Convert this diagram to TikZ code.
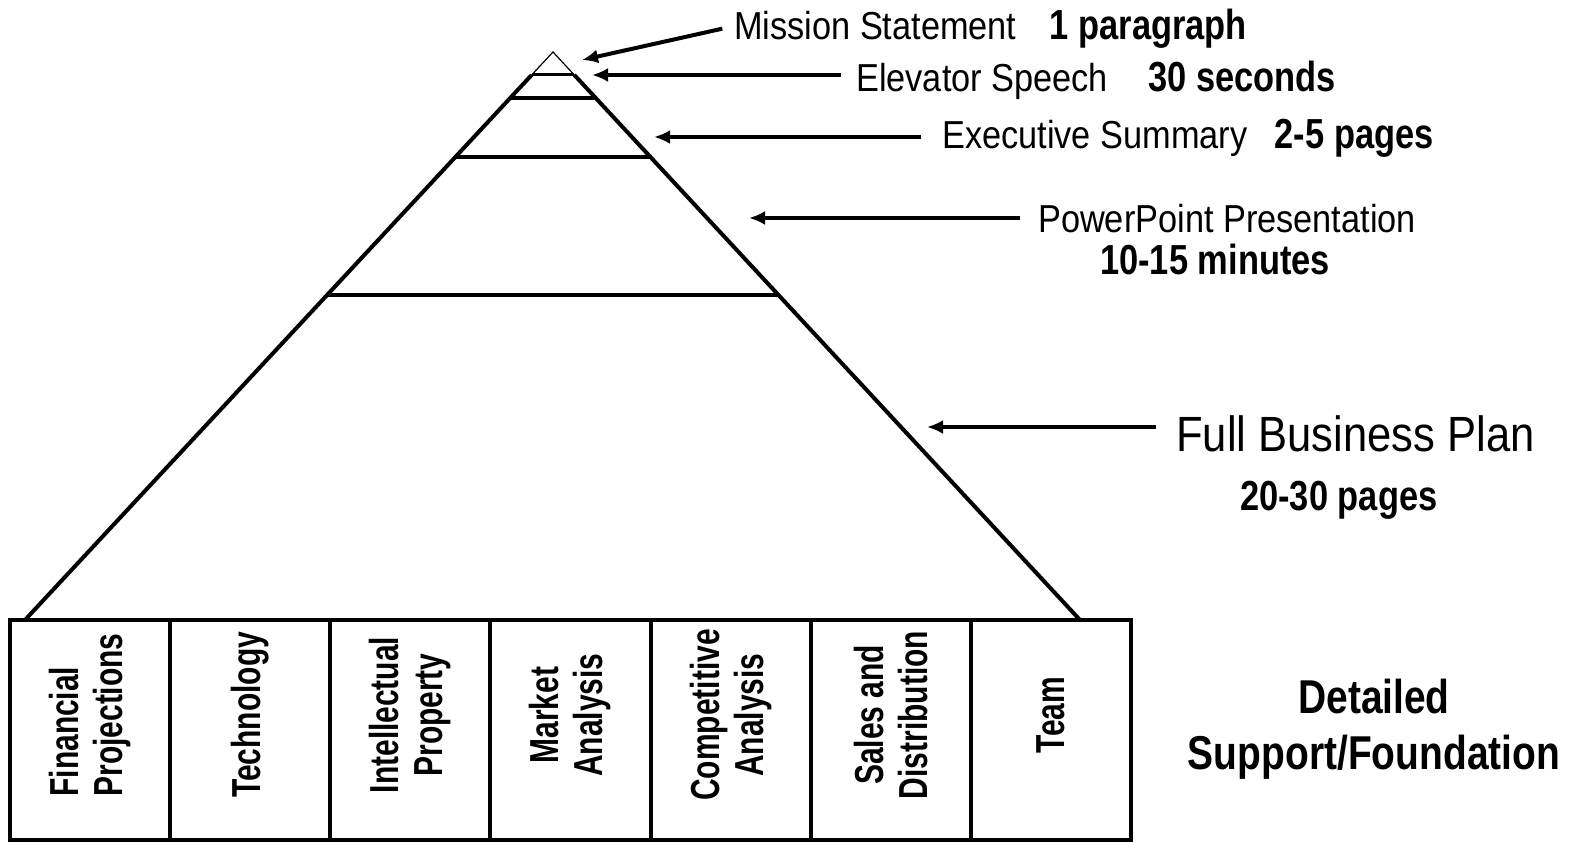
\documentclass[tikz,border=0pt]{standalone}
\usepackage{fontspec}
\newfontfamily\regfont{Liberation Sans}[FakeStretch=0.88]
\newfontfamily\bldfont{Liberation Sans}[FakeStretch=0.82]
\newfontfamily\nrwfont{Liberation Sans}[FakeStretch=0.74]
\usetikzlibrary{arrows.meta,calc,positioning}

\begin{document}
\begin{tikzpicture}[x=1pt, y=-1pt,
  reglbl/.style={inner sep=0pt, anchor=base west, font=\regfont\fontsize{39}{46}\selectfont},
  sizelbl/.style={inner sep=0pt, anchor=base west, font=\bldfont\bfseries\fontsize{42}{48}\selectfont},
  arr/.style={line width=4pt, -{Latex[length=16pt,width=14pt]}, shorten <=#1},
  arr/.default=18pt,
  layer/.style={line width=4pt},
  partbox/.style={draw, line width=4pt, minimum width=160.14pt, minimum height=220pt, inner sep=0pt},
  partlbl/.style={rotate=90, align=center, inner sep=0pt, font=\nrwfont\bfseries\fontsize{40.5}{44}\selectfont}]
  \useasboundingbox (0,0) rectangle (1583,842);
  % pyramid
  \coordinate (apex) at (553,52);
  \coordinate (bl) at (25,620);
  \coordinate (br) at (1080,620);
  \coordinate (tl) at ($(apex)!0.0405!(bl)$);
  \coordinate (tr) at ($(apex)!0.0405!(br)$);
  \draw[line width=1.2pt] (tl) -- (apex) -- (tr);
  \draw[layer] (tl) -- (bl) (tr) -- (br);
  \foreach \t/\w in {0.0405/3pt, 0.081/4pt, 0.1849/4pt, 0.4278/4pt}
    \draw[line width=\w] ($(apex)!\t!(bl)$) -- ($(apex)!\t!(br)$);

  % foundation boxes
  \foreach \name/\i in {fin/0, tech/1, ip/2, mkt/3, comp/4, sales/5, team/6}
    \node[partbox] (\name) at (90.07+160.14*\i, 730) {};
  \node[partlbl, align=left] (finlbl) at ([yshift=15pt]fin.center) {Financial\\Projections};
  \node[partlbl] (techlbl) at ([yshift=15pt]tech.center) {Technology};
  \node[partlbl] (iplbl) at ([yshift=15pt]ip.center) {Intellectual\\Property};
  \node[partlbl] (mktlbl) at ([yshift=15pt]mkt.center) {Market\\Analysis};
  \node[partlbl] (complbl) at ([yshift=15pt]comp.center) {Competitive\\Analysis};
  \node[partlbl] (saleslbl) at ([yshift=15pt]sales.center) {Sales and\\Distribution};
  \node[partlbl] (teamlbl) at ([yshift=15pt]team.center) {Team};

  % levels and their length
  \node[reglbl] (mission) at (734,40) {Mission Statement};
  \node[sizelbl, base right=33pt of mission] (mpar) {1 paragraph};
  \node[reglbl] (elevator) at (856,92) {Elevator Speech};
  \node[sizelbl, base right=40pt of elevator] (esec) {30 seconds};
  \node[reglbl] (execsum) at (942,149) {Executive Summary};
  \node[sizelbl, base right=27pt of execsum] (epages) {2-5 pages};
  \node[reglbl] (ppt) at (1038,233) {PowerPoint Presentation};
  \node[sizelbl] (pmin) at (1100,275) {10-15 minutes};
  \node[reglbl, font=\regfont\fontsize{49.5}{58}\selectfont] (fbp) at (1176,451) {Full Business Plan};
  \node[sizelbl] (fpages) at (1240,510) {20-30 pages};
  \node[align=center, inner sep=0pt, font=\bldfont\bfseries\fontsize{47.5}{56}\selectfont] (found) at (1374,729) {Detailed\\Support/Foundation};

  % arrows
  \coordinate (mtip) at (582,60);
  \coordinate (etip) at (592,75);
  \coordinate (xtip) at (654,137);
  \coordinate (ptip) at (749,218);
  \coordinate (ftip) at (927,427);
  \draw[arr=12pt] (mission.west) -- (mtip);
  \draw[arr=15pt] (elevator.west |- etip) -- (etip);
  \draw[arr=21pt] (execsum.west |- xtip) -- (xtip);
  \draw[arr] (ppt.west |- ptip) -- (ptip);
  \draw[arr=20pt] (fbp.west |- ftip) -- (ftip);
\end{tikzpicture}
\end{document}
